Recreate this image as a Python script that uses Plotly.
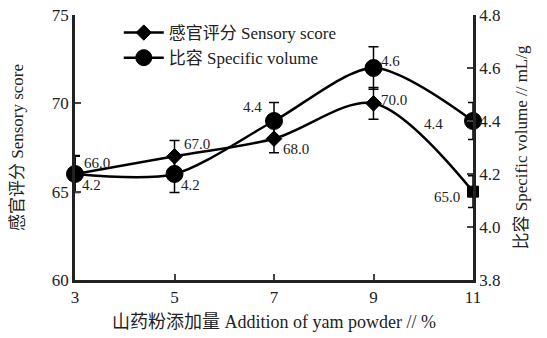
import plotly.graph_objects as go

# ---- data ----
addition = [3, 5, 7, 9, 11]
sensory = [66.0, 67.0, 68.0, 70.0, 65.0]
sensory_err = [1.0, 0.9, 0.8, 0.9, 0.9]
volume = [4.2, 4.2, 4.4, 4.6, 4.4]
volume_err = [0.07, 0.07, 0.07, 0.08, 0.07]
x_ticks = [3, 5, 7, 9, 11]

# label offsets (style only)
sens_lbl = [(22, 11), (22, 12), (22, -10), (20, 3), (-26, -5)]
vol_lbl = [(16, -11), (16, -11), (-22, 14), (17, 7), (-40, -3)]

FONT = "Liberation Serif, Noto Sans CJK SC"

fig = go.Figure()
fig.add_trace(go.Scatter(
    x=addition, y=sensory, name="感官评分 Sensory score",
    mode="lines+markers", line=dict(color="black", width=2.5, shape="spline", smoothing=0.9),
    marker=dict(symbol=["diamond"] * 4 + ["square"], size=[12, 12, 12, 12, 11], color="black",
                opacity=1, line=dict(color="black", width=1)),
    error_y=dict(type="data", array=sensory_err, color="black", thickness=1.5, width=5),
    cliponaxis=False, yaxis="y"))
fig.add_trace(go.Scatter(
    x=addition, y=volume, name="比容 Specific volume",
    mode="lines+markers", line=dict(color="black", width=2.5, shape="spline", smoothing=0.8),
    marker=dict(symbol="circle", size=17, color="black", opacity=1,
                line=dict(color="black", width=1)),
    error_y=dict(type="data", array=volume_err, color="black", thickness=1.5, width=5),
    cliponaxis=False, yaxis="y2"))

ann = []
for xv, yv, (dx, dy) in zip(addition, sensory, sens_lbl):
    ann.append(dict(x=xv, y=yv, xref="x", yref="y", text=f"{yv:.1f}", showarrow=False,
                    xshift=dx, yshift=dy, font=dict(size=15, color="#222", family=FONT)))
for xv, yv, (dx, dy) in zip(addition, volume, vol_lbl):
    ann.append(dict(x=xv, y=yv, xref="x", yref="y2", text=f"{yv:.1f}", showarrow=False,
                    xshift=dx, yshift=dy, font=dict(size=15, color="#222", family=FONT)))

# the page body adds an 8px margin, so the figure is sized to fit the window
fig.update_layout(
    width=539, height=330,
    margin=dict(l=67, r=74, t=7, b=58),
    paper_bgcolor="white", plot_bgcolor="white",
    font=dict(family=FONT, size=16, color="#222"),
    showlegend=True,
    legend=dict(x=0.11, y=1.0, xanchor="left", yanchor="top",
                bgcolor="rgba(0,0,0,0)", font=dict(size=17), itemwidth=40, tracegroupgap=0),
    annotations=ann,
    xaxis=dict(range=[3, 11], tickvals=x_ticks, ticks="inside", ticklen=6, tickwidth=2,
               showline=True, linecolor="#222", linewidth=2.5, showgrid=False, zeroline=False,
               tickfont=dict(size=17), automargin=False, ticklabeloverflow="allow",
               title=dict(text="山药粉添加量 Addition of yam powder // %", font=dict(size=18), standoff=10)),
    yaxis=dict(range=[60, 75], dtick=5, ticks="inside", ticklen=6, tickwidth=2,
               showline=True, linecolor="#222", linewidth=2.5, showgrid=False, zeroline=False,
               tickfont=dict(size=17), automargin=False, ticklabeloverflow="allow",
               title=dict(text="感官评分 Sensory score", font=dict(size=17), standoff=30)),
    yaxis2=dict(range=[3.8, 4.8], dtick=0.2, tickformat=".1f", overlaying="y", side="right",
                ticks="inside", ticklen=6, tickwidth=2, showline=True, linecolor="#222",
                linewidth=2.5, showgrid=False, zeroline=False, tickfont=dict(size=17),
                automargin=False, ticklabeloverflow="allow",
                title=dict(text="比容 Specific volume // mL/g", font=dict(size=17), standoff=16)),
)

fig.write_html("out.html")
